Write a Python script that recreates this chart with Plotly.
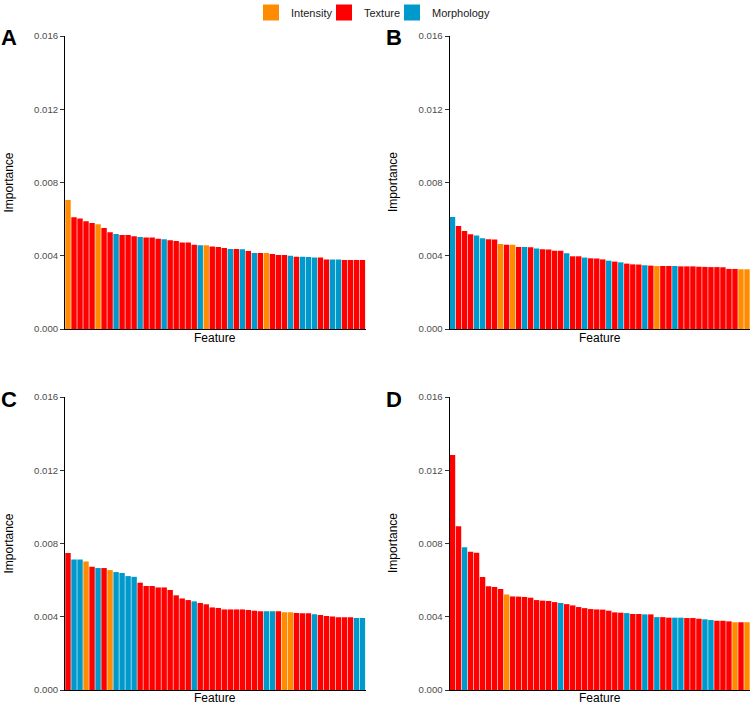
import plotly.graph_objects as go

# ---------------- data ----------------
cat_names = ["Intensity", "Texture", "Morphology"]
cat_colors = {"Intensity": "#FF8C00", "Texture": "#FF0000", "Morphology": "#0099CC"}
I, T, M = "Intensity", "Texture", "Morphology"

values_A = [0.00704, 0.00610, 0.00604, 0.00588, 0.00579, 0.00572, 0.00551, 0.00528, 0.00519, 0.00513,
            0.00513, 0.00506, 0.00502, 0.00500, 0.00500, 0.00493, 0.00490, 0.00484, 0.00480, 0.00473,
            0.00473, 0.00460, 0.00457, 0.00457, 0.00450, 0.00448, 0.00442, 0.00437, 0.00437, 0.00435,
            0.00426, 0.00415, 0.00415, 0.00415, 0.00410, 0.00404, 0.00404, 0.00400, 0.00395, 0.00395,
            0.00393, 0.00390, 0.00390, 0.00380, 0.00380, 0.00380, 0.00377, 0.00377, 0.00377, 0.00377]
cats_A = [I, T, T, T, T, I, T, T, M, T,
          T, T, M, T, T, T, M, T, T, T,
          T, T, M, I, T, T, T, M, T, M,
          T, M, T, I, T, T, T, M, T, M,
          M, M, T, T, M, M, T, T, T, T]

values_B = [0.00611, 0.00562, 0.00535, 0.00517, 0.00511, 0.00495, 0.00490, 0.00489, 0.00464, 0.00460,
            0.00460, 0.00448, 0.00448, 0.00446, 0.00440, 0.00435, 0.00434, 0.00427, 0.00427, 0.00413,
            0.00397, 0.00397, 0.00390, 0.00386, 0.00385, 0.00380, 0.00373, 0.00368, 0.00364, 0.00357,
            0.00353, 0.00352, 0.00348, 0.00346, 0.00344, 0.00344, 0.00344, 0.00344, 0.00342, 0.00342,
            0.00342, 0.00340, 0.00339, 0.00338, 0.00338, 0.00337, 0.00328, 0.00328, 0.00326, 0.00326]
cats_B = [M, T, T, T, M, M, T, T, I, T,
          I, T, M, T, M, T, T, T, T, M,
          T, T, M, T, T, T, M, T, M, T,
          T, T, M, T, I, T, T, M, T, T,
          T, T, T, T, T, T, T, T, I, I]

values_C = [0.00748, 0.00713, 0.00713, 0.00702, 0.00673, 0.00666, 0.00666, 0.00655, 0.00644, 0.00639,
            0.00622, 0.00618, 0.00586, 0.00568, 0.00568, 0.00560, 0.00560, 0.00546, 0.00517, 0.00500,
            0.00491, 0.00484, 0.00475, 0.00468, 0.00451, 0.00448, 0.00440, 0.00440, 0.00440, 0.00440,
            0.00437, 0.00433, 0.00430, 0.00430, 0.00430, 0.00430, 0.00424, 0.00424, 0.00420, 0.00419,
            0.00419, 0.00413, 0.00410, 0.00404, 0.00402, 0.00397, 0.00397, 0.00397, 0.00393, 0.00393]
cats_C = [T, M, M, I, T, M, T, I, M, M,
          M, M, T, T, T, T, T, T, T, T,
          T, M, T, T, T, T, T, T, T, T,
          T, T, T, M, M, T, I, I, T, T,
          T, M, T, T, T, T, T, T, M, M]

values_D = [0.01283, 0.00894, 0.00779, 0.00755, 0.00750, 0.00617, 0.00566, 0.00562, 0.00551, 0.00522,
            0.00511, 0.00510, 0.00508, 0.00504, 0.00491, 0.00488, 0.00486, 0.00480, 0.00475, 0.00469,
            0.00462, 0.00453, 0.00447, 0.00442, 0.00440, 0.00439, 0.00433, 0.00424, 0.00422, 0.00420,
            0.00415, 0.00415, 0.00413, 0.00413, 0.00398, 0.00398, 0.00395, 0.00395, 0.00395, 0.00393,
            0.00393, 0.00389, 0.00386, 0.00382, 0.00378, 0.00378, 0.00375, 0.00370, 0.00370, 0.00370]
cats_D = [T, T, M, T, T, T, T, T, T, I,
          T, T, T, T, T, T, T, T, M, T,
          T, T, T, T, T, T, T, T, T, M,
          T, T, M, T, M, T, T, M, M, T,
          T, T, M, M, T, T, T, I, T, I]

panel_labels = ["A", "B", "C", "D"]
y_ticks = [0.000, 0.004, 0.008, 0.012, 0.016]

# ---------------- figure ----------------
W, H = 752, 704
FONT = "Liberation Sans, Arial, Helvetica, sans-serif"
panels = [(values_A, cats_A), (values_B, cats_B), (values_C, cats_C), (values_D, cats_D)]

# plot areas in pixels: (left, right, top, bottom)
areas = [(65, 365.5, 36, 329), (449.5, 750, 36, 329),
         (65, 365.5, 397, 690), (449.5, 750, 397, 690)]

fig = go.Figure()

for p, (vals, cats) in enumerate(panels):
    xa = "x" if p == 0 else f"x{p+1}"
    ya = "y" if p == 0 else f"y{p+1}"
    for c in cat_names:
        xs = [i for i, cc in enumerate(cats) if cc == c]
        ys = [vals[i] for i in xs]
        fig.add_trace(go.Bar(x=xs, y=ys, xaxis=xa, yaxis=ya, name=c,
                             marker=dict(color=cat_colors[c], line=dict(width=0)),
                             width=0.9, showlegend=False, legendgroup=c))

# legend entries (square keys), one small legend per category so the spacing matches
legend_ids = ["legend", "legend2", "legend3"]
legend_left_px = [251, 324, 392]
for c, lid in zip(cat_names, legend_ids):
    fig.add_trace(go.Scatter(x=[None], y=[None], mode="markers", name=c, legend=lid,
                             marker=dict(symbol="square", size=17, color=cat_colors[c]),
                             showlegend=True, legendgroup=c))

layout = dict(
    width=W, height=H, margin=dict(l=0, r=0, t=0, b=0, autoexpand=False),
    plot_bgcolor="white", paper_bgcolor="white",
    barmode="overlay", font=dict(family=FONT),
)
for lid, lx in zip(legend_ids, legend_left_px):
    layout[lid] = dict(orientation="h", x=lx / W, xanchor="left", y=1 - 12.5 / H, yanchor="middle",
                       font=dict(size=11, color="#1a1a1a"), itemsizing="trace",
                       itemwidth=30, bgcolor="rgba(0,0,0,0)")

annotations = []
for p, (l, r, t, b) in enumerate(areas):
    sfx = "" if p == 0 else str(p + 1)
    ydom = [(H - b) / H, (H - t) / H]
    xdom = [l / W, r / W]
    layout["xaxis" + sfx] = dict(domain=xdom, range=[-0.5, 49.5], showticklabels=False,
                                 ticks="", showgrid=False, zeroline=False, showline=True,
                                 linecolor="black", linewidth=1, anchor="y" + sfx, fixedrange=True)
    layout["yaxis" + sfx] = dict(domain=ydom, range=[0, 0.016], tickvals=y_ticks, tickformat=".3f",
                                 ticks="outside", ticklen=4, tickcolor="#333333", tickwidth=1,
                                 tickfont=dict(size=9.6, color="#4D4D4D", family=FONT),
                                 showgrid=False, zeroline=False, showline=True,
                                 linecolor="black", linewidth=1, anchor="x" + sfx, fixedrange=True)
    # axis titles
    if b + 16 <= H - 10:
        feat_y, feat_anchor = 1 - (b + 9) / H, "middle"
    else:
        feat_y, feat_anchor = -2.5 / H, "bottom"
    annotations.append(dict(text="Feature", xref="paper", yref="paper",
                            x=(l + r) / 2 / W, y=feat_y, showarrow=False,
                            font=dict(size=12, color="black", family=FONT),
                            xanchor="center", yanchor=feat_anchor))
    annotations.append(dict(text="Importance", xref="paper", yref="paper",
                            x=(l - 57) / W, y=1 - ((t + b) / 2) / H, showarrow=False,
                            textangle=-90, font=dict(size=12, color="black", family=FONT),
                            xanchor="center", yanchor="middle"))
    # panel label
    annotations.append(dict(text="<b>" + panel_labels[p] + "</b>", xref="paper", yref="paper",
                            x=(l - 56) / W, y=1 - (t + 2) / H, showarrow=False,
                            font=dict(size=22, color="black", family=FONT),
                            xanchor="center", yanchor="middle"))

layout["annotations"] = annotations
fig.update_layout(**layout)

fig.write_html("out.html", config={"displayModeBar": False},
               post_script="document.body.style.margin='0';")
